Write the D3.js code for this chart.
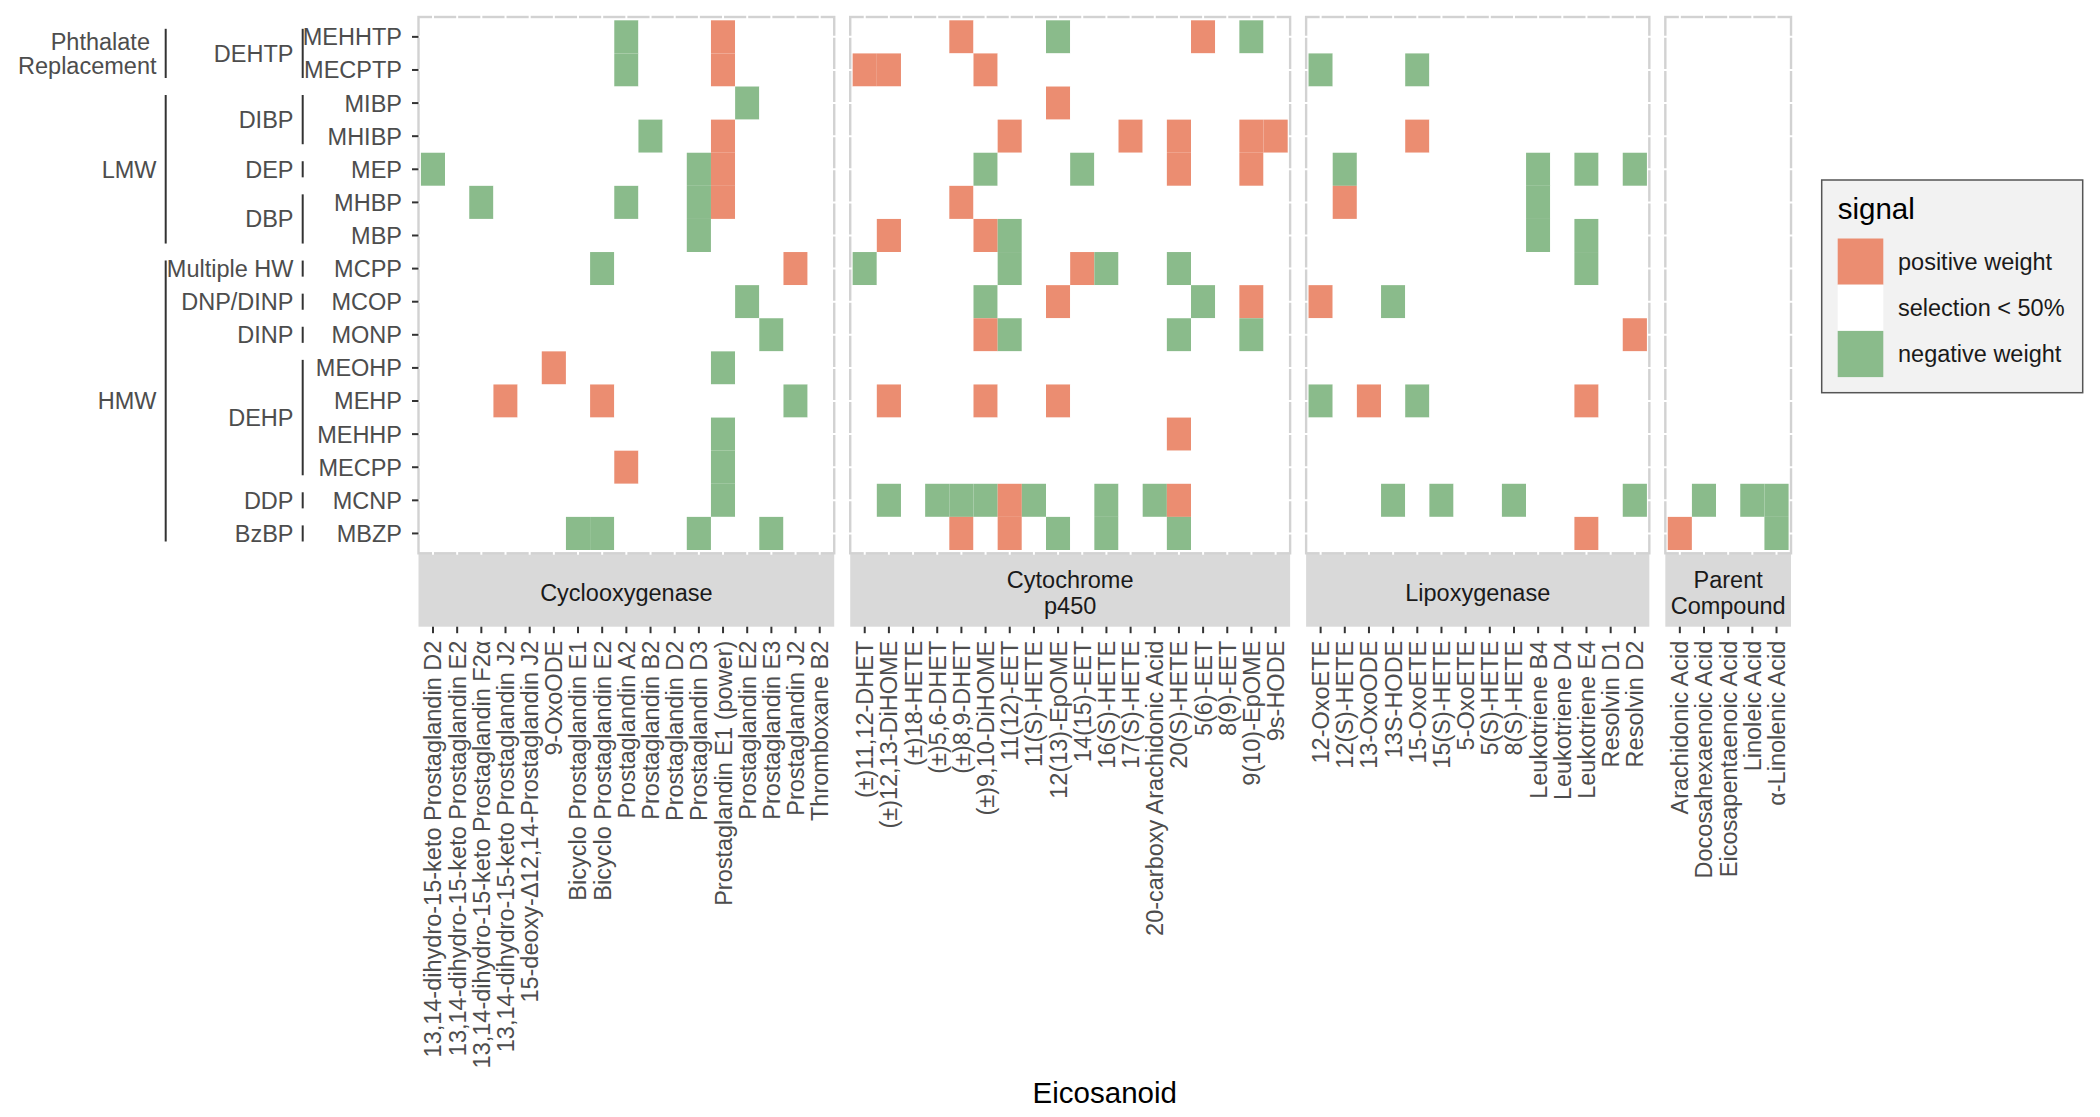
<!DOCTYPE html>
<html><head><meta charset="utf-8">
<script src="https://cdn.jsdelivr.net/npm/d3@7"></script>
<style>
body{margin:0;background:#fff}
svg{display:block}
text{font-family:"Liberation Sans",Arial,Helvetica,sans-serif}
</style>
</head><body>
<svg id="chart" width="2100" height="1117"></svg>
<script>
// ---------------- DATA ----------------
const rows = ["MEHHTP","MECPTP","MIBP","MHIBP","MEP","MHBP","MBP","MCPP","MCOP","MONP","MEOHP","MEHP","MEHHP","MECPP","MCNP","MBZP"];

const level2Groups = [
  ["DEHTP","MEHHTP","MECPTP"],
  ["DIBP","MIBP","MHIBP"],
  ["DEP","MEP","MEP"],
  ["DBP","MHBP","MBP"],
  ["Multiple HW","MCPP","MCPP"],
  ["DNP/DINP","MCOP","MCOP"],
  ["DINP","MONP","MONP"],
  ["DEHP","MEOHP","MECPP"],
  ["DDP","MCNP","MCNP"],
  ["BzBP","MBZP","MBZP"]
];
const level1Groups = [
  ["Phthalate \nReplacement","MEHHTP","MECPTP"],
  ["LMW","MIBP","MBP"],
  ["HMW","MCPP","MBZP"]
];

const panelNames = ["Cyclooxygenase","Cytochrome\np450","Lipoxygenase","Parent\nCompound"];

const cycloLabels = ["13,14-dihydro-15-keto Prostaglandin D2","13,14-dihydro-15-keto Prostaglandin E2","13,14-dihydro-15-keto Prostaglandin F2α","13,14-dihydro-15-keto Prostaglandin J2","15-deoxy-Δ12,14-Prostaglandin J2","9-OxoODE","Bicyclo Prostaglandin E1","Bicyclo Prostaglandin E2","Prostaglandin A2","Prostaglandin B2","Prostaglandin D2","Prostaglandin D3","Prostaglandin E1 (power)","Prostaglandin E2","Prostaglandin E3","Prostaglandin J2","Thromboxane B2"];
const cytoLabels = ["(±)11,12-DHET","(±)12,13-DiHOME","(±)18-HETE","(±)5,6-DHET","(±)8,9-DHET","(±)9,10-DiHOME","11(12)-EET","11(S)-HETE","12(13)-EpOME","14(15)-EET","16(S)-HETE","17(S)-HETE","20-carboxy Arachidonic Acid","20(S)-HETE","5(6)-EET","8(9)-EET","9(10)-EpOME","9s-HODE"];
const lipoxLabels = ["12-OxoETE","12(S)-HETE","13-OxoODE","13S-HODE","15-OxoETE","15(S)-HETE","5-OxoETE","5(S)-HETE","8(S)-HETE","Leukotriene B4","Leukotriene D4","Leukotriene E4","Resolvin D1","Resolvin D2"];
const parentLabels = ["Arachidonic Acid","Docosahexaenoic Acid","Eicosapentaenoic Acid","Linoleic Acid","α-Linolenic Acid"];

// signal per row (one character per eicosanoid): P = positive weight, N = negative weight, . = selection < 50%
const cycloSignals = [
  "........N...P....",
  "........N...P....",
  ".............N...",
  ".........N..P....",
  "N..........NP....",
  "..N.....N..NP....",
  "...........N.....",
  ".......N.......P.",
  ".............N...",
  "..............N..",
  ".....P......N....",
  "...P...P.......N.",
  "............N....",
  "........P...N....",
  "............N....",
  "......NN...N..N.."
];
const cytoSignals = [
  "....P...N.....P.N.",
  "PP...P............",
  "........P.........",
  "......P....P.P..PP",
  ".....N...N...P..P.",
  "....P.............",
  ".P...PN...........",
  "N.....N..PN..N....",
  ".....N..P.....N.P.",
  ".....PN......N..N.",
  "..................",
  ".P...P..P.........",
  ".............P....",
  "..................",
  ".N.NNNPN..N.NP....",
  "....P.P.N.N..N...."
];
const lipoxSignals = [
  "..............",
  "N...N.........",
  "..............",
  "....P.........",
  ".N.......N.N.N",
  ".P.......N....",
  ".........N.N..",
  "...........N..",
  "P..N..........",
  ".............P",
  "..............",
  "N.P.N......P..",
  "..............",
  "..............",
  "...N.N..N....N",
  "...........P.."
];
const parentSignals = [
  ".....",".....",".....",".....",".....",".....",".....",".....",
  ".....",".....",".....",".....",".....",".....",
  ".N.NN",
  "P...N"
];

const signalCodes = ["P",".","N"];
const signalNames = ["positive weight","selection < 50%","negative weight"];
const signalColors = ["#EB8D71","#FFFFFF","#8ABB8B"];

// ---------------- LAYOUT ----------------
const panelLabels = [cycloLabels, cytoLabels, lipoxLabels, parentLabels];
const panelSignals = [cycloSignals, cytoSignals, lipoxSignals, parentSignals];

const svg = d3.select("#chart");
svg.append("rect").attr("width",2100).attr("height",1117).attr("fill","#fff");

const FONT = '"Liberation Sans",Arial,Helvetica,sans-serif';
const unit = 24.17, gap = 16, left0 = 418.5;
const panelTop = 17, panelBottom = 553.3, stripH = 73.4;
const axisFs = 23.5, titleFs = 29.5;

const color = d3.scaleOrdinal().domain(signalCodes).range(signalColors);
const y = d3.scaleBand().domain(rows).range([panelTop, panelBottom]).paddingInner(0).paddingOuter(0.1);
const bw = y.bandwidth();

let x0 = left0;
let xEnd = left0;
panelLabels.forEach((labels, pi) => {
  const w = unit * (labels.length + 0.2);
  const x = d3.scaleBand().domain(labels).range([x0, x0 + w]).paddingInner(0).paddingOuter(0.1);
  const g = svg.append("g");

  // strip
  g.append("rect").attr("x", x0).attr("y", panelBottom).attr("width", w).attr("height", stripH).attr("fill", "#D9D9D9");
  const lines = panelNames[pi].split("\n");
  g.selectAll("text.strip").data(lines).join("text")
    .attr("class","strip")
    .attr("x", x0 + w/2)
    .attr("y", (d,i) => 601 + (i - (lines.length-1)/2) * 26.6)
    .attr("text-anchor","middle")
    .attr("font-size", axisFs)
    .attr("fill","#1A1A1A")
    .text(d => d);

  // panel background + light border
  g.append("rect").attr("x", x0).attr("y", panelTop).attr("width", w).attr("height", panelBottom - panelTop)
    .attr("fill","#fff").attr("stroke","#D2D2D2").attr("stroke-width",2.4);
  // white major grid lines (show as gaps in the border)
  g.selectAll("line.gx").data(labels).join("line").attr("class","gx")
    .attr("x1", d => x(d) + x.bandwidth()/2).attr("x2", d => x(d) + x.bandwidth()/2)
    .attr("y1", panelTop - 2).attr("y2", panelBottom + 1.5)
    .attr("stroke","#fff").attr("stroke-width",2);
  g.selectAll("line.gy").data(rows).join("line").attr("class","gy")
    .attr("y1", d => y(d) + bw/2).attr("y2", d => y(d) + bw/2)
    .attr("x1", x0 - 2).attr("x2", x0 + w + 2)
    .attr("stroke","#fff").attr("stroke-width",2);

  // tiles
  const cells = [];
  rows.forEach((r, ri) => {
    const s = panelSignals[pi][ri].padEnd(labels.length, ".");
    labels.forEach((lab, ci) => cells.push({row: r, col: lab, code: s[ci]}));
  });
  g.selectAll("rect.cell").data(cells).join("rect").attr("class","cell")
    .attr("x", d => x(d.col)).attr("y", d => y(d.row))
    .attr("width", x.bandwidth()).attr("height", bw)
    .attr("fill", d => color(d.code));

  // x axis
  const ag = svg.append("g").attr("transform", `translate(0,${panelBottom + stripH})`)
    .call(d3.axisBottom(x).tickSize(6.5).tickSizeOuter(0));
  ag.attr("font-family", FONT);
  ag.select(".domain").remove();
  ag.selectAll(".tick line").attr("stroke","#333").attr("stroke-width",2);
  ag.selectAll(".tick text")
    .attr("transform","rotate(-90)")
    .attr("text-anchor","end")
    .attr("x",-14).attr("y",0).attr("dy","0.36em")
    .attr("font-size",axisFs).attr("fill","#4D4D4D");

  xEnd = x0 + w;
  x0 = x0 + w + gap;
});

// y axis (innermost level)
const yg = svg.append("g").attr("transform",`translate(${left0},0)`)
  .call(d3.axisLeft(y).tickSize(6.5).tickPadding(10).tickSizeOuter(0));
yg.attr("font-family", FONT);
yg.select(".domain").remove();
yg.selectAll(".tick line").attr("stroke","#333").attr("stroke-width",2);
yg.selectAll(".tick text").attr("font-size",axisFs).attr("fill","#4D4D4D").attr("dy","0.36em");

// nested levels
function drawLevel(groups, textX, lineX, lh) {
  const inset = 8.5;
  groups.forEach(([label, from, to]) => {
    const y1 = y(from), y2 = y(to) + bw;
    const yc = (y1 + y2) / 2;
    svg.append("line").attr("x1", lineX).attr("x2", lineX)
      .attr("y1", y1 + inset).attr("y2", y2 - inset)
      .attr("stroke","#333").attr("stroke-width",2);
    const ls = label.split("\n");
    svg.append("g").selectAll("text").data(ls).join("text")
      .attr("x", textX)
      .attr("y", (d,i) => yc + (i - (ls.length-1)/2) * lh)
      .attr("dy","0.36em")
      .attr("text-anchor","end")
      .attr("font-size",axisFs)
      .attr("fill","#4D4D4D")
      .style("white-space","pre")
      .text(d => d);
  });
}
drawLevel(level2Groups, 293.5, 302.7, 24.7);
drawLevel(level1Groups, 156.5, 165.7, 24.7);

// axis title
svg.append("text").attr("x", (left0 + xEnd)/2).attr("y", 1102.5)
  .attr("text-anchor","middle").attr("font-size",titleFs).attr("fill","#000").text("Eicosanoid");

// legend
const lg = svg.append("g");
lg.append("rect").attr("x",1821.7).attr("y",180).attr("width",261).attr("height",212.7)
  .attr("fill","#F2F2F2").attr("stroke","#555").attr("stroke-width",1.5);
lg.append("text").attr("x",1837.7).attr("y",218.5).attr("font-size",titleFs).attr("fill","#000").text("signal");
const keyScale = d3.scaleBand().domain(signalNames).range([238.5, 238.5 + 46.2*3]);
lg.selectAll("rect.key").data(signalNames).join("rect").attr("class","key")
  .attr("x",1837.7).attr("y", d => keyScale(d)).attr("width",45.6).attr("height",keyScale.bandwidth())
  .attr("fill",(d,i) => color(signalCodes[i]));
lg.selectAll("text.kl").data(signalNames).join("text").attr("class","kl")
  .attr("x",1898).attr("y", d => keyScale(d) + keyScale.bandwidth()/2).attr("dy","0.35em")
  .attr("font-size",axisFs).attr("fill","#1A1A1A").text(d => d);
</script>
</body></html>
